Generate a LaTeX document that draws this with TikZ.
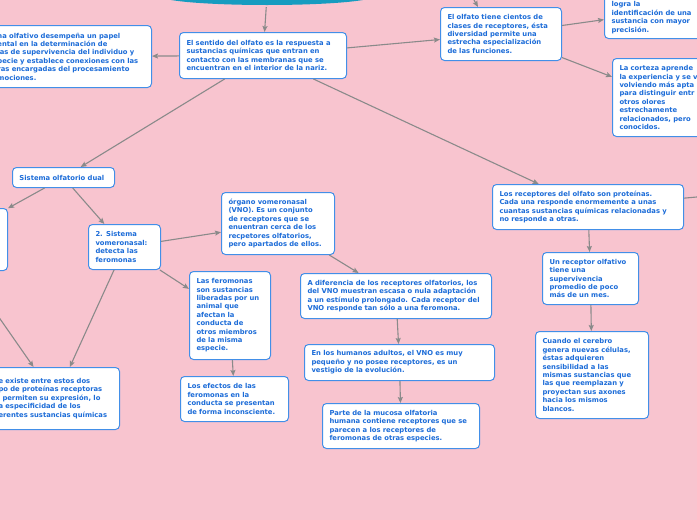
\documentclass[tikz,border=0pt]{standalone}
\usepackage{fontspec}
\setmainfont{DejaVu Sans}
\usetikzlibrary{arrows.meta,calc,shapes.geometric}
\definecolor{bg}{RGB}{248,196,207}
\definecolor{bordc}{RGB}{66,143,232}
\definecolor{txtc}{RGB}{28,108,216}
\definecolor{arrc}{RGB}{138,138,138}
\definecolor{topteal}{RGB}{22,156,192}
\tikzset{
 box/.style={draw=bordc, line width=1pt, fill=white, rounded corners=4pt, text=txtc,
   font=\fontsize{6.8}{8.4}\selectfont\bfseries, align=left, inner xsep=7pt, inner ysep=5pt},
 conn/.style={draw=arrc, line width=1.1pt, -{Stealth[length=6pt,width=5pt,inset=1pt]}},
 plainline/.style={draw=arrc, line width=1.1pt},
}
\newcommand{\bx}[6]{\pgfmathsetmacro\tw{#4-14}\node[box, anchor=north west, text width=\tw pt, minimum height=#5 pt] (#1) at (#2,#3) {#6};}
\begin{document}
\begin{tikzpicture}[x=1pt,y=-1pt]
\useasboundingbox (0,0) rectangle (697,520);
\fill[bg] (0,0) rectangle (697,520);
\clip (0,0) rectangle (697,520);

\node[ellipse, fill=topteal, minimum width=214, minimum height=18, inner sep=0] (T) at (267,-4) {};

\bx{A}{179}{32}{167}{46}{El sentido del olfato es la respuesta a\\sustancias químicas que entran en\\contacto con las membranas que se\\encuentran en el interior de la nariz.}
\bx{B}{-10}{25}{161}{62}{na olfativo desempeña un papel\\ental en la determinación de\\ias de supervivencia del individuo y\\pecie y establece conexiones con las\\ras encargadas del procesamiento\\mociones.}
\bx{C}{440}{7}{121}{53}{El olfato tiene cientos de\\clases de receptores, ésta\\diversidad permite una\\estrecha especialización\\de las funciones.}
\node[box, anchor=south west, text width=98pt] (D) at (604,39) {\mbox{}\\\mbox{}\\logra la\\identificación de una\\sustancia con mayor\\precisión.};
\bx{E}{612}{58}{106}{78}{La corteza aprende\\la experiencia y se v\\volviendo más apta\\para distinguir entr\\otros olores\\estrechamente\\relacionados, pero\\conocidos.}
\bx{F}{12}{167}{102}{20}{Sistema olfatorio dual}
\bx{G}{-105}{208}{112}{62}{}
\bx{H}{88}{224}{72}{45}{2. Sistema\\vomeronasal:\\detecta las\\feromonas}
\bx{I}{221}{192}{113}{62}{órgano vomeronasal\\(VNO). Es un conjunto\\de receptores que se\\enuentran cerca de los\\recpetores olfatorios,\\pero apartados de ellos.}
\bx{J}{189}{271}{81}{88}{Las feromonas\\son sustancias\\liberadas por un\\animal que\\afectan la\\conducta de\\otros miembros\\de la misma\\especie.}
\bx{K}{180}{376}{108}{45}{Los efectos de las\\feromonas en la\\conducta se presentan\\de forma inconsciente.}
\bx{L}{300}{273}{191}{45}{A diferencia de los receptores olfatorios, los\\del VNO muestran escasa o nula adaptación\\a un estímulo prolongado. Cada receptor del\\VNO responde tan sólo a una feromona.}
\bx{M}{304}{344}{190}{36}{En los humanos adultos, el VNO es muy\\pequeño y no posee receptores, es un\\vestigio de la evolución.}
\bx{N}{322}{403}{157}{45}{Parte de la mucosa olfatoria\\humana contiene receptores que se\\parecen a los receptores de\\feromonas de otras especies.}
\bx{O}{-9}{367}{128}{62}{e existe entre estos dos\\po de proteínas receptoras\\\hspace*{4pt}permiten su expresión, lo\\a especificidad de los\\erentes sustancias químicas}
\bx{P}{492}{184}{191}{45}{Los receptores del olfato son proteínas.\\Cada una responde enormemente a unas\\cuantas sustancias químicas relacionadas y\\no responde a otras.}
\bx{Q}{542}{252}{96}{52}{Un receptor olfativo\\tiene una\\supervivencia\\promedio de poco\\más de un mes.}
\bx{R}{535}{331}{113}{87}{Cuando el cerebro\\genera nuevas células,\\éstas adquieren\\sensibilidad a las\\mismas sustancias que\\las que reemplazan y\\proyectan sus axones\\hacia los mismos\\blancos.}

\coordinate (ct) at (466,-14);
\coordinate (pr) at (740,193);
\coordinate (gb) at (-34,270);

\draw[conn, shorten <=2pt] (T) -- (A);
\draw[conn] (A) -- (B);
\draw[conn] (A) -- (C);
\draw[conn] (C) -- (D);
\draw[conn] (C) -- (E);
\draw[conn] (A) -- (F);
\draw[conn] (A) -- (P);
\draw[conn] (F) -- (G);
\draw[conn] (F) -- (H);
\draw[conn] (H) -- (I);
\draw[conn] (H) -- (J);
\draw[conn] (J) -- (K);
\draw[conn] (I) -- (L);
\draw[conn] (L) -- (M);
\draw[conn] (M) -- (N);
\draw[conn] (H) -- (O);
\draw[conn] (gb) -- (O);
\draw[conn] (P) -- (Q);
\draw[conn] (Q) -- (R);
\draw[plainline] (P) -- (pr);
\draw[conn] (ct) -- ($(C.north west)+(38,0)$);
\end{tikzpicture}
\end{document}
